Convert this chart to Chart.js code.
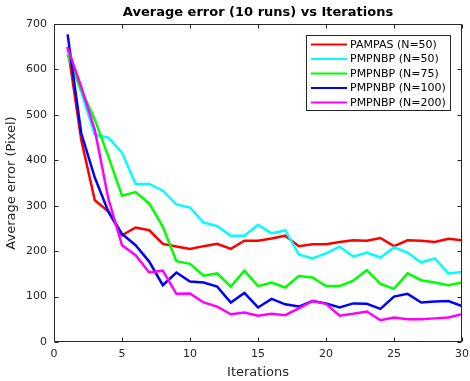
<!DOCTYPE html>
<html>
<head>
<meta charset="utf-8">
<script src="https://cdn.jsdelivr.net/npm/chart.js@4/dist/chart.umd.min.js"></script>
<style>
  html, body { margin: 0; padding: 0; background: #fff; }
  #wrap { width: 470px; height: 381px; }
</style>
</head>
<body>
<div id="wrap"><canvas id="c" width="470" height="381"></canvas></div>
<script>
const titleText = "Average error (10 runs) vs Iterations";
const xAxisTitle = "Iterations";
const yAxisTitle = "Average error (Pixel)";

const iterations = [1,2,3,4,5,6,7,8,9,10,11,12,13,14,15,16,17,18,19,20,21,22,23,24,25,26,27,28,29,30];

const seriesNames = ["PAMPAS (N=50)", "PMPNBP (N=50)", "PMPNBP (N=75)", "PMPNBP (N=100)", "PMPNBP (N=200)"];
const seriesColors = ["#ff0000", "#00ffff", "#00ff00", "#0000ff", "#ff00ff"];

const pampas50 = [650,445,312,287,235,252,246,216,210,205,211,216,205,223,223,228,234,211,215,215,220,224,223,229,211,224,223,220,227,224];
const pmpnbp50 = [640,550,456,450,417,348,348,333,303,296,263,255,234,234,258,239,246,193,184,195,210,188,197,186,208,197,175,184,151,154];
const pmpnbp75 = [632,555,490,408,322,330,305,254,178,172,146,151,122,157,123,131,120,145,142,123,123,135,158,128,117,151,136,131,125,131];
const pmpnbp100 = [677,460,362,287,238,213,177,125,153,133,131,122,87,108,76,95,83,78,90,85,76,85,84,73,100,106,87,89,90,79];
const pmpnbp200 = [648,562,467,315,213,191,153,157,106,107,87,78,61,65,58,62,59,74,90,84,58,62,67,48,54,50,50,52,54,61];

const allSeries = [pampas50, pmpnbp50, pmpnbp75, pmpnbp100, pmpnbp200];

const xTicks = [0,5,10,15,20,25,30];
const yTicks = [0,100,200,300,400,500,600,700];

const FONT = "'DejaVu Sans', 'Liberation Sans', sans-serif";
const AXIS_COLOR = "#262626";

const datasets = allSeries.map((s, k) => ({
  label: seriesNames[k],
  data: iterations.map((x, i) => ({ x: x, y: s[i] })),
  borderColor: seriesColors[k],
  backgroundColor: seriesColors[k],
  borderWidth: 2.5,
  pointRadius: 0,
  tension: 0,
  fill: false,
  order: allSeries.length - k
}));

const framePlugin = {
  id: 'frame',
  afterDatasetsDraw(chart) {
    const ctx = chart.ctx;
    const a = chart.chartArea;
    const xs = chart.scales.x, ys = chart.scales.y;
    ctx.save();
    ctx.strokeStyle = AXIS_COLOR;
    ctx.lineWidth = 1;
    const L = Math.round(a.left) + 0.5, R = Math.round(a.right) - 0.5;
    const T = Math.round(a.top) + 0.5, B = Math.round(a.bottom) - 0.5;
    ctx.beginPath();
    ctx.rect(L, T, R - L, B - T);
    ctx.stroke();
    const tl = 4;
    ctx.beginPath();
    xTicks.forEach(v => {
      const px = Math.round(xs.getPixelForValue(v)) + 0.5;
      ctx.moveTo(px, B); ctx.lineTo(px, B - tl);
      ctx.moveTo(px, T); ctx.lineTo(px, T + tl);
    });
    yTicks.forEach(v => {
      const py = Math.round(ys.getPixelForValue(v)) + 0.5;
      ctx.moveTo(L, py); ctx.lineTo(L + tl, py);
      ctx.moveTo(R, py); ctx.lineTo(R - tl, py);
    });
    ctx.stroke();

    // title
    ctx.fillStyle = "#000";
    ctx.font = "bold 13px " + FONT;
    ctx.textAlign = "center";
    ctx.textBaseline = "middle";
    ctx.fillText(titleText, (a.left + a.right) / 2, 13);

    // legend
    const bx = 306.5, by = 35.5, bw = 144, bh = 75;
    ctx.fillStyle = "#fff";
    ctx.fillRect(bx, by, bw, bh);
    ctx.strokeStyle = AXIS_COLOR;
    ctx.strokeRect(bx, by, bw, bh);
    ctx.font = "11px " + FONT;
    ctx.textAlign = "left";
    chart.data.datasets.forEach((ds, k) => {
      const y = 44.5 + k * 14.5;
      ctx.strokeStyle = ds.borderColor;
      ctx.lineWidth = 2;
      ctx.beginPath();
      ctx.moveTo(311, y); ctx.lineTo(347, y);
      ctx.stroke();
      ctx.fillStyle = "#000";
      ctx.fillText(ds.label, 350, y + 0.5);
    });
    ctx.restore();
  }
};

new Chart(document.getElementById('c'), {
  type: 'line',
  data: { datasets: datasets },
  options: {
    responsive: false,
    animation: false,
    devicePixelRatio: 1,
    layout: { padding: { top: 24, right: 8, left: 0, bottom: 0 } },
    plugins: {
      legend: { display: false },
      title: { display: false },
      tooltip: { enabled: false }
    },
    scales: {
      x: {
        type: 'linear',
        min: 0, max: 30,
        afterFit(s) { s.height = 39; s.paddingLeft = 0; s.paddingRight = 0; },
        afterBuildTicks(s) { s.ticks = xTicks.map(v => ({ value: v })); },
        grid: { display: false, drawTicks: false },
        border: { display: false },
        ticks: { color: AXIS_COLOR, font: { family: FONT, size: 11 }, padding: 6, maxRotation: 0 },
        title: { display: true, text: xAxisTitle, color: AXIS_COLOR, font: { family: FONT, size: 13 }, padding: { top: 0, bottom: 1 } }
      },
      y: {
        type: 'linear',
        min: 0, max: 700,
        afterFit(s) { s.width = 54; s.paddingTop = 0; s.paddingBottom = 0; },
        afterBuildTicks(s) { s.ticks = yTicks.map(v => ({ value: v })); },
        grid: { display: false, drawTicks: false },
        border: { display: false },
        ticks: { color: AXIS_COLOR, font: { family: FONT, size: 11 }, padding: 7 },
        title: { display: true, text: yAxisTitle, color: AXIS_COLOR, font: { family: FONT, size: 13 }, padding: { top: 4, bottom: 0 } }
      }
    }
  },
  plugins: [framePlugin]
});
</script>
</body>
</html>
